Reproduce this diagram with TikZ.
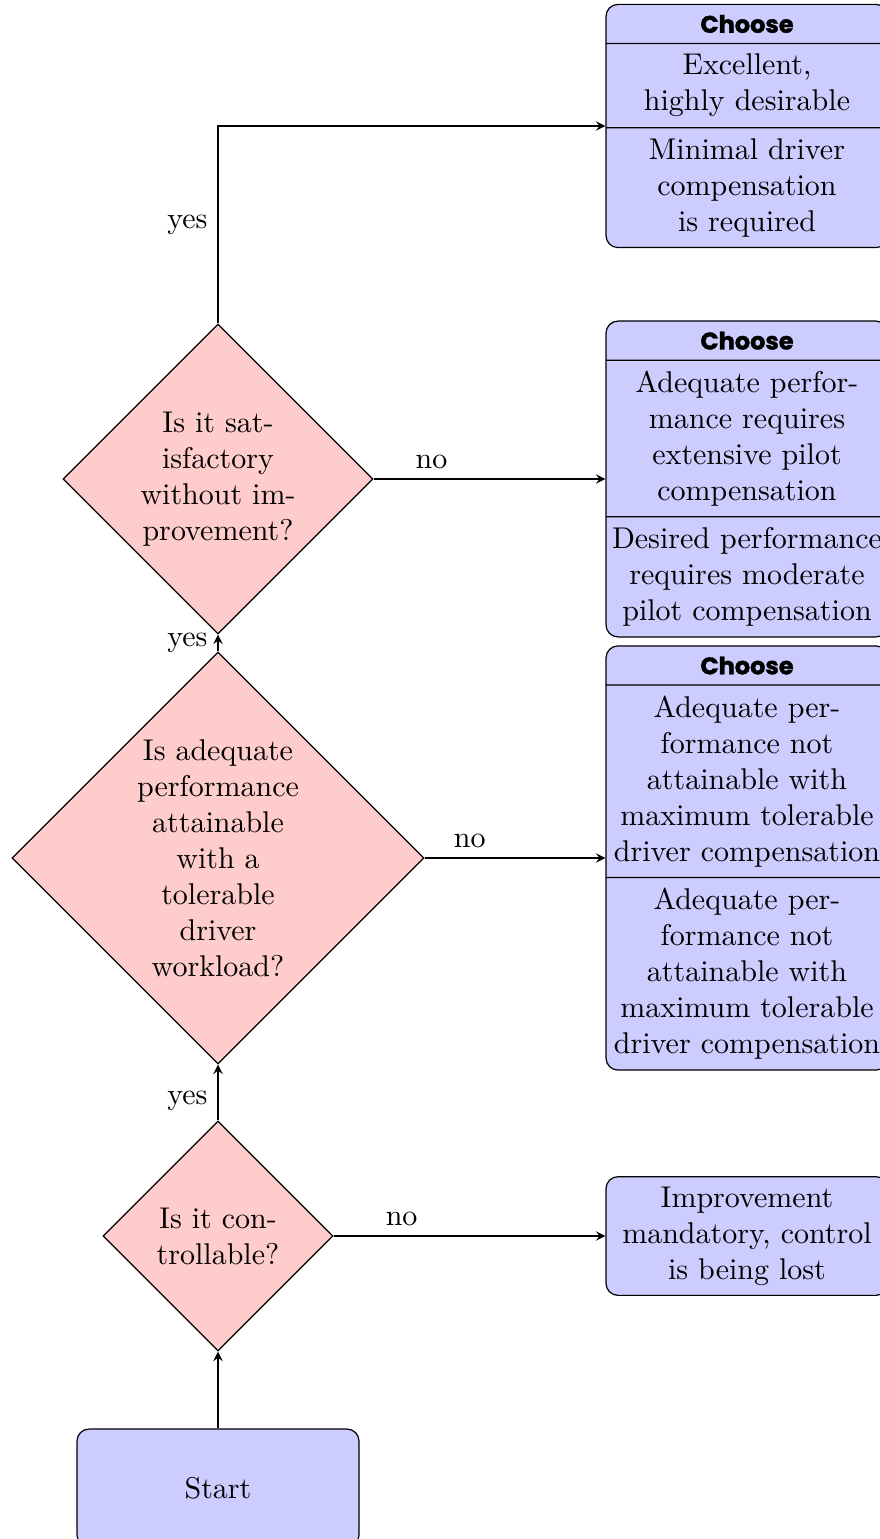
\documentclass[tikz,border=0pt]{standalone}
\usepackage{fontspec}
\newfontfamily\headfont{Poppins}[BoldFeatures={FakeBold=1.5}]
\usetikzlibrary{shapes,arrows,calc}
\tikzstyle{decision}=[diamond,
                      draw,
                      fill=red!20,
                      inner sep=0pt,
                      align=center]
\tikzstyle{block}=[rectangle,
                   draw,
                   fill=blue!20,
                   rounded corners,
                   minimum width=94pt,
                   minimum height=39.3pt,
                   align=center]
\tikzstyle{choice}=[rectangle split,
                    rectangle split parts=3,
                    rectangle split draw splits,
                    draw,
                    fill=blue!20,
                    rounded corners,
                    text width=92pt,
                    inner xsep=1pt,
                    align=center]
\tikzstyle{line}=[draw,-stealth]
\newcommand{\choosehead}{{\headfont\bfseries\footnotesize Choose}}

\begin{document}
\begin{tikzpicture}
    \useasboundingbox (0,0) rectangle (293.33pt,-513pt);
    \node[block] (start) at (72.67pt,-496pt) {Start};
    \node[decision, minimum size=76.7pt, node distance=84pt, above of=start] (control) {Is it con-\\trollable?};
    \node[decision, minimum size=137.3pt, node distance=126pt, above of=control] (workload) {Is adequate\\performance\\attainable\\with a\\tolerable\\driver\\workload?};
    \node[decision, minimum size=103.3pt, node distance=126.33pt, above of=workload] (satisfy) {Is it sat-\\isfactory\\without im-\\provement?};
    \node[block, text width=92pt, inner xsep=1pt, node distance=176.33pt, right of=control] (lost) {Improvement\\mandatory, control\\is being lost};
    \node[choice, node distance=176.33pt, right of=workload] (maxcomp) {\choosehead
        \nodepart{two} Adequate per-\\formance not\\attainable with\\maximum tolerable\\driver compensation
        \nodepart{three} Adequate per-\\formance not\\attainable with\\maximum tolerable\\driver compensation};
    \node[choice, node distance=176.33pt, right of=satisfy] (pilot) {\choosehead
        \nodepart{two} Adequate perfor-\\mance requires\\extensive pilot\\compensation
        \nodepart{three} Desired performance\\requires moderate\\pilot compensation};
    \node[choice, node distance=117.67pt, above of=pilot] (excellent) {\choosehead
        \nodepart{two} Excellent,\\highly desirable
        \nodepart{three} Minimal driver\\compensation\\is required};
    \path[line] (start) edge (control)
    (control) edge node[left, pos=0.35] {yes} (workload)
    (workload) edge node[left] {yes} (satisfy)
    (control) edge node[above, pos=0.25] {no} (lost)
    (workload) edge node[above, pos=0.25] {no} (maxcomp)
    (satisfy) edge node[above, pos=0.25] {no} (pilot);
    \path[line] (satisfy) |- node[left, pos=0.25] {yes} (excellent);
\end{tikzpicture}
\end{document}
